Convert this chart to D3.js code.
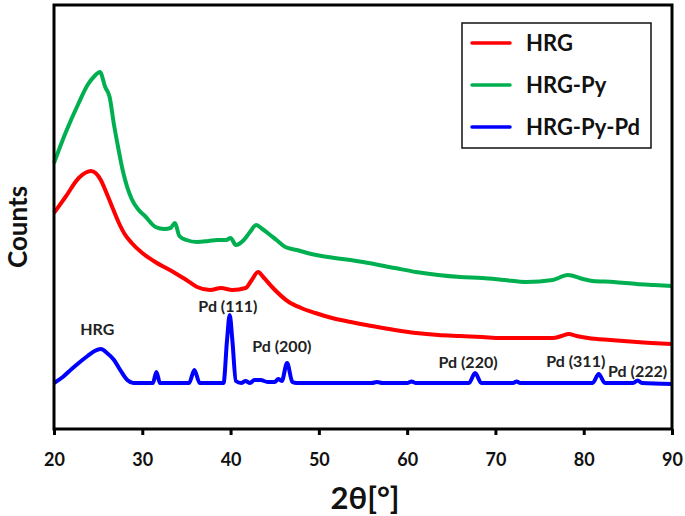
<!DOCTYPE html>
<html><head><meta charset="utf-8">
<script src="https://cdn.jsdelivr.net/npm/d3@7"></script>
<style>body{margin:0;background:#fff}svg{display:block}</style>
</head><body><svg id="c" width="685" height="516"></svg>
<script>
// ---- data (2θ in degrees, counts in arbitrary units) ----
const seriesNames = ["HRG", "HRG-Py", "HRG-Py-Pd"];
const seriesColors = ["#ff0000", "#00b050", "#0000ff"];

const hrgX = [20,21.3,22.8,24.2,25.3,25.9,26.5,27.3,28,28.8,30,31.3,33.7,35,36.2,37.7,38.9,40.2,41.7,42.4,43.1,43.8,44.7,46.6,48,49.6,51.5,53.6,56,58.6,61,63.5,66,68.5,70.6,73.5,76.5,77.5,78.3,79.2,80.5,83,86,90];
const hrgY = [2160,2320,2510,2580,2490,2370,2240,2070,1950,1860,1760,1680,1560,1490,1420,1390,1410,1390,1410,1490,1570,1510,1420,1270,1210,1160,1110,1070,1030,990,960,940,930,920,910,910,910,930,950,930,910,890,870,850];

const pyX = [20,21.3,22.8,23.8,24.6,25.2,25.8,26.3,26.8,27.3,27.8,28.8,29.5,30.3,31.5,32.5,33.2,33.7,34.2,35,36.2,37.5,38.5,39.5,40,40.6,41.5,42.2,42.9,43.6,44.2,45.2,46.2,47.5,48.7,51,53.6,55,58.6,61,63.5,66,68.5,71,73.5,76.5,78.2,79.9,81,83.4,86,88,90];
const pyY = [2660,2960,3260,3440,3530,3570,3420,3320,3040,2800,2580,2300,2200,2130,2020,2000,2010,2060,1930,1890,1870,1880,1890,1890,1910,1840,1890,1970,2040,2000,1960,1890,1820,1790,1760,1720,1690,1670,1610,1570,1540,1520,1510,1490,1470,1490,1540,1500,1480,1470,1450,1440,1430];

const pdX = [20,21,22,22.8,23.8,24.6,25.3,26,26.8,27.5,28.3,29,31.2,31.6,32,35.3,35.9,36.5,39.2,39.6,39.9,40.2,40.6,41.2,41.7,42.2,42.7,43.4,44.2,45,45.4,45.8,46.4,47,47.5,56,56.6,57.2,60,60.5,61,67,67.7,68.4,72,72.4,72.8,81,81.7,82.4,85.6,86.1,86.6,90];
const pdY = [460,520,600,660,730,780,800,760,690,590,490,460,460,570,460,460,590,460,460,890,1140,890,480,460,480,460,490,490,470,470,500,480,660,470,460,460,470,460,460,475,460,460,560,460,460,475,460,460,550,460,460,485,460,450];

const xTicks = [20,30,40,50,60,70,80,90];
const peakLabels = ["HRG","Pd (111)","Pd (200)","Pd (220)","Pd (311)","Pd (222)"];
const peakLabelX = [24.9,39.7,45.8,66.9,79.1,86.1];
const peakLabelY = [1000,1230,830,670,680,580];

// ---- layout ----
const L = 54, R = 672, T = 5, B = 429;
const svg = d3.select("#c");
const x = d3.scaleLinear().domain([20, 90]).range([L, R]);
const y = d3.scaleLinear().domain([0, 4240]).range([B, T]);
const font = "Lato, 'Open Sans', 'DejaVu Sans', sans-serif";

const series = [
  {name: seriesNames[0], color: seriesColors[0], pts: hrgX.map((v,i)=>[v, hrgY[i]])},
  {name: seriesNames[1], color: seriesColors[1], pts: pyX.map((v,i)=>[v, pyY[i]])},
  {name: seriesNames[2], color: seriesColors[2], pts: pdX.map((v,i)=>[v, pdY[i]])}
];
const line = d3.line().x(d=>x(d[0])).y(d=>y(d[1])).curve(d3.curveMonotoneX);

svg.selectAll("path.s").data(series).enter().append("path")
  .attr("class","s").attr("d", d=>line(d.pts))
  .attr("fill","none").attr("stroke", d=>d.color)
  .attr("stroke-width", 4).attr("stroke-linejoin","round");

// frame
svg.append("rect").attr("x", L).attr("y", T).attr("width", R-L).attr("height", B-T)
  .attr("fill","none").attr("stroke","#000").attr("stroke-width", 3);

// x axis
const xa = svg.append("g").attr("transform", `translate(0,${B})`)
  .call(d3.axisBottom(x).tickValues(xTicks).tickSize(6).tickFormat(d3.format("d")));
xa.select(".domain").remove();
xa.selectAll(".tick line").attr("stroke","#000").attr("stroke-width",3);
xa.selectAll(".tick text").attr("font-family", font).attr("font-weight","bold")
  .attr("font-size", 18).attr("fill","#111").attr("dy", null).attr("y", 37);

// axis titles
svg.append("text").attr("x", (L+R)/2 + 2).attr("y", 509).attr("text-anchor","middle")
  .attr("font-family", font).attr("font-weight","bold").attr("font-size", 31).attr("fill","#111")
  .text("2θ[°]");
svg.append("text").attr("transform","translate(27,227) rotate(-90)").attr("text-anchor","middle")
  .attr("font-family", font).attr("font-weight","bold").attr("font-size", 26).attr("fill","#111")
  .text("Counts");

// peak annotations
svg.selectAll("text.pk").data(peakLabels).enter().append("text").attr("class","pk")
  .attr("x", (d,i)=>x(peakLabelX[i])).attr("y", (d,i)=>y(peakLabelY[i]))
  .attr("dy","0.35em").attr("text-anchor","middle")
  .attr("font-family", font).attr("font-weight","bold").attr("font-size", 16).attr("fill","#222")
  .text(d=>d);

// legend
const lg = svg.append("g");
lg.append("rect").attr("x", 462).attr("y", 23).attr("width", 189).attr("height", 125)
  .attr("fill","#fff").attr("stroke","#111").attr("stroke-width", 1.5);
series.forEach((s,i)=>{
  const cy = 43 + i*42;
  lg.append("line").attr("x1",472).attr("x2",510).attr("y1",cy).attr("y2",cy)
    .attr("stroke", s.color).attr("stroke-width",3.5).attr("stroke-linecap","round");
  lg.append("text").attr("x",526).attr("y",cy).attr("dy","0.36em")
    .attr("font-family", font).attr("font-weight","bold").attr("font-size",22).attr("fill","#111")
    .text(s.name);
});
</script></body></html>
